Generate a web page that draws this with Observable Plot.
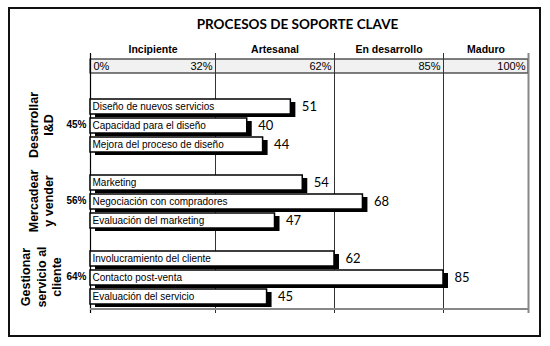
<!DOCTYPE html>
<html><head><meta charset="utf-8">
<script src="https://cdn.jsdelivr.net/npm/d3@7"></script>
<script src="https://cdn.jsdelivr.net/npm/@observablehq/plot@0.6"></script>
<style>
body{margin:0;background:#fff;}
#wrap{position:relative;width:550px;height:346px;}
#border{position:absolute;left:8px;top:7px;width:533px;height:330px;box-sizing:border-box;border:2px solid #111;pointer-events:none;}
</style></head><body><div id="wrap"><div id="border"></div></div>
<script>
const title = "PROCESOS DE SOPORTE CLAVE";
const stages = ["Incipiente", "Artesanal", "En desarrollo", "Maduro"];
const stageBounds = [0, 32, 62, 85, 100];
const boundLabels = ["0%", "32%", "62%", "85%", "100%"];
const groups = ["Desarrollar\nI&D", "Mercadear\ny vender", "Gestionar\nservicio al\ncliente"];
const groupScores = ["45%", "56%", "64%"];
const processes = ["Diseño de nuevos servicios", "Capacidad para el diseño", "Mejora del proceso de diseño",
  "Marketing", "Negociación con compradores", "Evaluación del marketing",
  "Involucramiento del cliente", "Contacto post-venta", "Evaluación del servicio"];
const processGroup = [0, 0, 0, 1, 1, 1, 2, 2, 2];
const values = [51, 40, 44, 54, 68, 47, 62, 85, 45];

const data = processes.map((p, i) => ({process: p, value: values[i], group: processGroup[i]}));
const groupData = groups.map((g, i) => ({label: g, score: groupScores[i], mid: processes[processGroup.indexOf(i) + 1]}));
const rows = ["hdr"];
groups.forEach((g, gi) => { rows.push("gap" + gi); data.filter(d => d.group === gi).forEach(d => rows.push(d.process)); });
const lastRow = rows[rows.length - 1];

const sans = "'Liberation Sans', Arial, sans-serif";
const chart = Plot.plot({
  width: 550, height: 346,
  marginTop: 52, marginBottom: 36, marginLeft: 90, marginRight: 22,
  style: {fontFamily: sans, fontSize: "11px", background: "transparent", overflow: "visible"},
  x: {type: "linear", domain: stageBounds, range: [90, 215, 334, 443, 528], axis: null},
  y: {type: "band", domain: rows, padding: 0, axis: null},
  marks: [
    Plot.barX(["hdr"], {x1: () => stageBounds[0], x2: () => stageBounds[stageBounds.length - 1], y: d => d,
      fill: "#f1f1f1", stroke: "#000", strokeWidth: 1, insetTop: 1, insetBottom: 4}),
    Plot.ruleX(stageBounds.slice(1, -1), {stroke: "#333", strokeWidth: 1, insetTop: 1, insetBottom: -3}),
    Plot.ruleX([stageBounds[stageBounds.length - 1]], {stroke: "#888", strokeWidth: 2, insetTop: 1, insetBottom: -3}),
    Plot.ruleX([stageBounds[0]], {stroke: "#000", strokeWidth: 1.2, insetTop: 1, insetBottom: -3}),
    Plot.ruleY([lastRow], {y: d => d, x1: () => stageBounds[0], x2: () => stageBounds[stageBounds.length - 1],
      stroke: "#888", strokeWidth: 2, dy: 13}),
    Plot.barX(data, {x: "value", y: "process", fill: "#000", dx: 5, dy: 3, insetTop: 3, insetBottom: 1}),
    Plot.barX(data, {x: "value", y: "process", fill: "#fff", stroke: "#000", strokeWidth: 1.5, insetTop: 3, insetBottom: 1}),
    Plot.text(data, {x: () => 0, y: "process", text: "process", textAnchor: "start", dx: 2, dy: 1, fontSize: 10}),
    Plot.text(data, {x: "value", y: "process", text: d => String(d.value), textAnchor: "start", dx: 11, dy: 1,
      fontSize: 13, fontFamily: "Lato"}),
    Plot.text([stageBounds[0]], {x: d => d, y: () => "hdr", text: () => boundLabels[0], textAnchor: "start", dx: 3, dy: -2, fontSize: 11}),
    Plot.text(stageBounds.slice(1), {x: d => d, y: () => "hdr", text: (d, i) => boundLabels[i + 1], textAnchor: "end", dx: -3, dy: -2, fontSize: 11}),
    Plot.text(stages, {x: (d, i) => (stageBounds[i] + stageBounds[i + 1]) / 2, y: () => "hdr", text: d => d,
      fontWeight: "bold", fontSize: 10.5, dy: -18}),
    Plot.text([title], {text: d => d, frameAnchor: "top", lineAnchor: "middle", dx: -12, dy: -28, fontSize: 13.5, fontWeight: "bold", fontFamily: "Lato"}),
    Plot.text(groupData, {y: "mid", text: "label", frameAnchor: "left", textAnchor: "middle", lineAnchor: "middle",
      dx: -50, rotate: -90, fontWeight: "bold", fontSize: 12.5, lineHeight: 1.25}),
    Plot.text(groupData, {y: "mid", text: "score", frameAnchor: "left", dx: -4, textAnchor: "end", fontWeight: "bold",
      fontSize: 10})
  ]
});
document.getElementById("wrap").appendChild(chart);
</script>
</body></html>
